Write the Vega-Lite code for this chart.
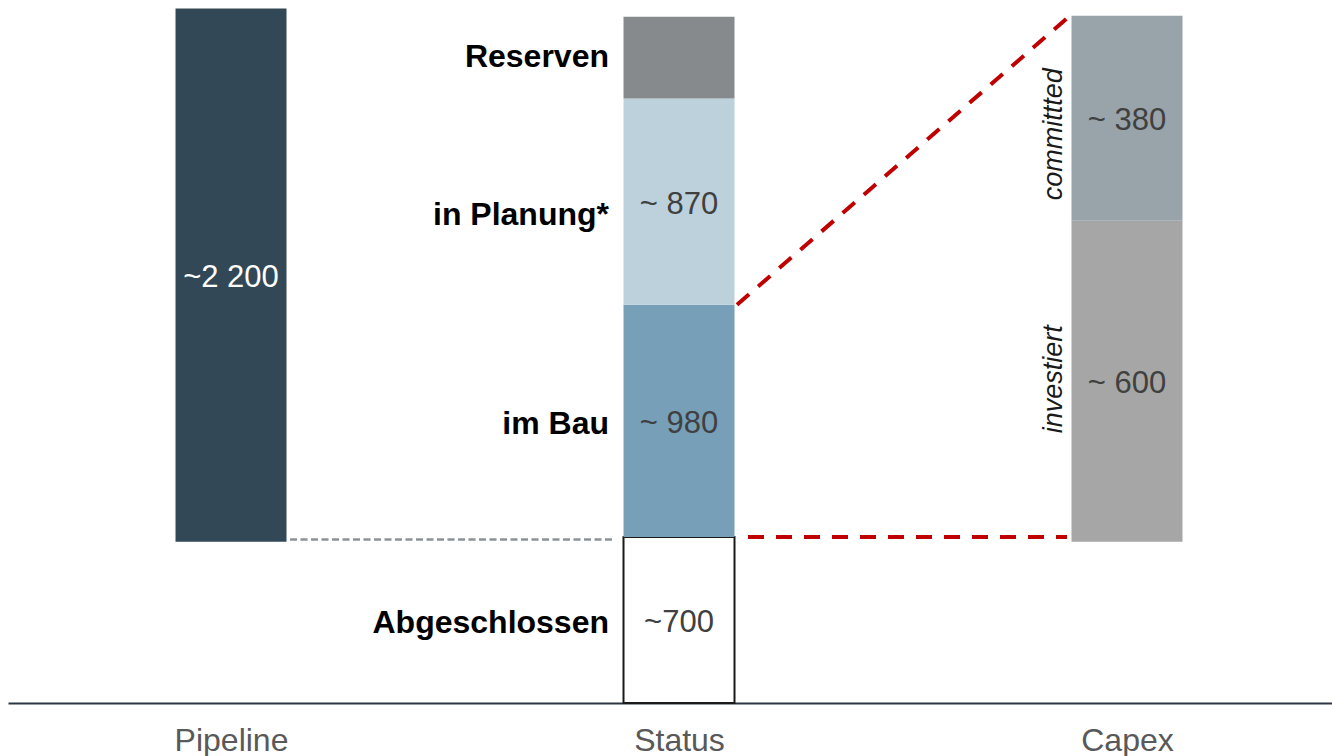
{
  "$schema": "https://vega.github.io/schema/vega-lite/v6.json",
  "width": 1324,
  "height": 703,
  "autosize": {"type": "none"},
  "padding": {"left": 8, "top": 0, "right": 0, "bottom": 53},
  "background": "white",
  "config": {"view": {"stroke": null}, "font": "Liberation Sans"},
  "datasets": {
    "bars": [
      {"col": 0, "segment": "Pipeline", "start": 680, "end": 2930, "value": "~2 200"},
      {"col": 1, "segment": "Abgeschlossen", "start": 0, "end": 700, "value": "~700", "label": "Abgeschlossen"},
      {"col": 1, "segment": "im Bau", "start": 700, "end": 1680, "value": "~ 980", "label": "im Bau"},
      {"col": 1, "segment": "in Planung", "start": 1680, "end": 2550, "value": "~ 870", "label": "in Planung*"},
      {"col": 1, "segment": "Reserven", "start": 2550, "end": 2895, "label": "Reserven"},
      {"col": 2, "segment": "investiert", "start": 680, "end": 2035, "value": "~ 600", "note": "investiert"},
      {"col": 2, "segment": "committed", "start": 2035, "end": 2900, "value": "~ 380", "note": "committted"}
    ],
    "links": [
      {"kind": "pipe", "x": 0, "x2": 1, "y": 690, "y2": 690},
      {"kind": "diag", "x": 1, "x2": 2, "y": 1680, "y2": 2900},
      {"kind": "flat", "x": 1, "x2": 2, "y": 700, "y2": 700}
    ]
  },
  "layer": [
    {
      "data": {"name": "bars"},
      "mark": {"type": "bar", "size": 111, "strokeWidth": 2},
      "encoding": {
        "x": {
          "field": "col", "type": "quantitative",
          "scale": {"domain": [-0.4978, 2.4576], "nice": false, "zero": false, "padding": 0},
          "axis": {
            "values": [0, 1, 2],
            "labelExpr": "['Pipeline','Status','Capex'][datum.value]",
            "title": null, "grid": false, "ticks": false, "tickSize": 0,
            "labelPadding": 22, "labelFontSize": 32, "labelColor": "#595959",
            "labelFont": "Liberation Sans", "labelFlush": false, "labelOverlap": false,
            "domainColor": "#2b3640", "domainWidth": 2
          }
        },
        "y": {"field": "start", "type": "quantitative", "scale": {"domain": [0, 2966], "nice": false, "zero": false, "padding": 0}, "axis": null},
        "y2": {"field": "end"},
        "color": {
          "field": "segment", "type": "nominal", "legend": null,
          "scale": {
            "domain": ["Pipeline", "Abgeschlossen", "im Bau", "in Planung", "Reserven", "investiert", "committed"],
            "range": ["#324856", "#ffffff", "#779fb8", "#bcd1dc", "#878a8d", "#a6a6a6", "#98a3aa"]
          }
        },
        "stroke": {"condition": {"test": "datum.segment === 'Abgeschlossen'", "value": "#1a1a1a"}, "value": "transparent"}
      }
    },
    {
      "data": {"name": "links"},
      "transform": [{"filter": "datum.kind === 'pipe'"}],
      "mark": {"type": "rule", "color": "#8a9296", "strokeWidth": 2.5, "strokeDash": [7, 3.5], "xOffset": 59, "x2Offset": -65},
      "encoding": {
        "x": {"field": "x", "type": "quantitative"},
        "x2": {"field": "x2"},
        "y": {"field": "y", "type": "quantitative"},
        "y2": {"field": "y2"}
      }
    },
    {
      "data": {"name": "links"},
      "transform": [{"filter": "datum.kind === 'diag'"}],
      "mark": {"type": "rule", "color": "#c00000", "strokeWidth": 4, "strokeDash": [16, 12], "xOffset": 58, "x2Offset": -57},
      "encoding": {
        "x": {"field": "x", "type": "quantitative"},
        "x2": {"field": "x2"},
        "y": {"field": "y", "type": "quantitative"},
        "y2": {"field": "y2"}
      }
    },
    {
      "data": {"name": "links"},
      "transform": [{"filter": "datum.kind === 'flat'"}],
      "mark": {"type": "rule", "color": "#c00000", "strokeWidth": 4, "strokeDash": [16, 12], "xOffset": 69, "x2Offset": -60},
      "encoding": {
        "x": {"field": "x", "type": "quantitative"},
        "x2": {"field": "x2"},
        "y": {"field": "y", "type": "quantitative"},
        "y2": {"field": "y2"}
      }
    },
    {
      "data": {"name": "bars"},
      "transform": [{"filter": "datum.value"}, {"calculate": "(datum.start + datum.end) / 2", "as": "mid"}],
      "mark": {"type": "text", "fontSize": 31, "align": "center", "baseline": "middle", "yOffset": 3, "font": "Liberation Sans"},
      "encoding": {
        "x": {"field": "col", "type": "quantitative"},
        "y": {"field": "mid", "type": "quantitative"},
        "text": {"field": "value"},
        "color": {"condition": {"test": "datum.segment === 'Pipeline'", "value": "#ffffff"}, "value": "#404040"}
      }
    },
    {
      "data": {"name": "bars"},
      "transform": [{"filter": "datum.segment === 'im Bau' || datum.segment === 'Abgeschlossen'"}, {"calculate": "(datum.start + datum.end) / 2", "as": "mid"}],
      "mark": {"type": "text", "fontSize": 32, "fontWeight": "bold", "align": "right", "baseline": "middle", "xOffset": -70, "yOffset": 3, "color": "#000000", "font": "Liberation Sans"},
      "encoding": {
        "x": {"field": "col", "type": "quantitative"},
        "y": {"field": "mid", "type": "quantitative"},
        "text": {"field": "label"}
      }
    },
    {
      "data": {"name": "bars"},
      "transform": [{"filter": "datum.segment === 'Reserven'"}, {"calculate": "(datum.start + datum.end) / 2", "as": "mid"}],
      "mark": {"type": "text", "fontSize": 32, "fontWeight": "bold", "align": "right", "baseline": "middle", "xOffset": -70, "yOffset": -1, "color": "#000000", "font": "Liberation Sans"},
      "encoding": {
        "x": {"field": "col", "type": "quantitative"},
        "y": {"field": "mid", "type": "quantitative"},
        "text": {"field": "label"}
      }
    },
    {
      "data": {"name": "bars"},
      "transform": [{"filter": "datum.segment === 'in Planung'"}, {"calculate": "(datum.start + datum.end) / 2", "as": "mid"}],
      "mark": {"type": "text", "fontSize": 32, "fontWeight": "bold", "align": "right", "baseline": "middle", "xOffset": -70, "yOffset": 13, "color": "#000000", "font": "Liberation Sans"},
      "encoding": {
        "x": {"field": "col", "type": "quantitative"},
        "y": {"field": "mid", "type": "quantitative"},
        "text": {"field": "label"}
      }
    },
    {
      "data": {"name": "bars"},
      "transform": [{"filter": "datum.segment === 'committed'"}, {"calculate": "(datum.start + datum.end) / 2", "as": "mid"}],
      "mark": {"type": "text", "fontSize": 27, "fontStyle": "italic", "angle": 270, "align": "center", "baseline": "middle", "xOffset": -73, "yOffset": 16, "color": "#1a1a1a", "font": "Liberation Sans"},
      "encoding": {
        "x": {"field": "col", "type": "quantitative"},
        "y": {"field": "mid", "type": "quantitative"},
        "text": {"field": "note"}
      }
    },
    {
      "data": {"name": "bars"},
      "transform": [{"filter": "datum.segment === 'investiert'"}, {"calculate": "(datum.start + datum.end) / 2", "as": "mid"}],
      "mark": {"type": "text", "fontSize": 27, "fontStyle": "italic", "angle": 270, "align": "center", "baseline": "middle", "xOffset": -73, "yOffset": -2, "color": "#1a1a1a", "font": "Liberation Sans"},
      "encoding": {
        "x": {"field": "col", "type": "quantitative"},
        "y": {"field": "mid", "type": "quantitative"},
        "text": {"field": "note"}
      }
    }
  ]
}
